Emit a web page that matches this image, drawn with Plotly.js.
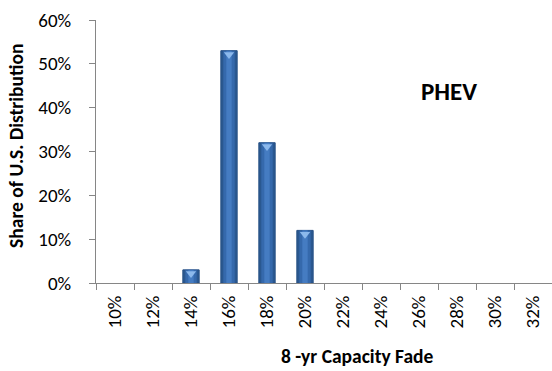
<!DOCTYPE html>
<html>
<head>
<meta charset="utf-8">
<script src="https://cdn.plot.ly/plotly-3.0.1.min.js"></script>
<style>
  html, body { margin: 0; padding: 0; background: #fff; }
  #chart { width: 552px; height: 371px; }
</style>
</head>
<body>
<div id="chart"></div>
<script>
// 8-year capacity fade bins and PHEV share of the U.S. distribution
const fadeBins = ['10%', '12%', '14%', '16%', '18%', '20%', '22%', '24%', '26%', '28%', '30%', '32%'];
const phevShare = [0, 0, 0.03, 0.53, 0.32, 0.12, 0, 0, 0, 0, 0, 0];

const FONT = 'Carlito, Calibri, Lato, sans-serif';
const AXIS_GREY = '#868686';

// empty bins draw nothing; bevel caps only on non-empty bins
const barVals = phevShare.map(v => (v > 0 ? v : null));
const capBins = fadeBins.filter((_, i) => phevShare[i] > 0);
const capVals = phevShare.filter(v => v > 0);

const traces = [
  { // bar body (dark edges)
    type: 'bar', x: fadeBins, y: barVals, width: 0.43,
    marker: { color: '#2A5890', line: { color: '#264F84', width: 1 } },
    hoverinfo: 'skip'
  },
  { // lighter inner band
    type: 'bar', x: fadeBins, y: barVals, width: 0.30,
    marker: { color: '#3569AC', line: { width: 0 } },
    hoverinfo: 'skip'
  },
  { // highlight stripe
    type: 'bar', x: fadeBins, y: barVals, width: 0.14,
    marker: { color: '#457CC2', line: { width: 0 } },
    hoverinfo: 'skip'
  },
  { // bevelled top cap
    type: 'scatter', mode: 'markers', x: capBins, y: capVals, yaxis: 'y2',
    marker: { symbol: 'triangle-down', size: 9, color: '#8CB9EC', line: { width: 0 } },
    hoverinfo: 'skip'
  }
];

const layout = {
  width: 552, height: 371,
  margin: { l: 96, r: 0, t: 20, b: 88 },
  paper_bgcolor: '#fff', plot_bgcolor: '#fff',
  showlegend: false,
  barmode: 'overlay',
  font: { family: FONT, size: 19, color: '#000' },
  xaxis: {
    type: 'category',
    tickangle: -90,
    ticks: 'outside', tickson: 'boundaries', ticklen: 6, tickcolor: AXIS_GREY, tickwidth: 1,
    showline: true, linecolor: AXIS_GREY, linewidth: 1,
    showgrid: false, zeroline: false,
    ticklabelstandoff: 4,
    tickfont: { family: FONT, size: 19 }
  },
  yaxis: {
    range: [0, 0.6], dtick: 0.1, tickformat: '.0%',
    ticks: 'outside', ticklen: 6, tickcolor: AXIS_GREY, tickwidth: 1,
    showline: true, linecolor: AXIS_GREY, linewidth: 1,
    showgrid: false, zeroline: false,
    ticklabelstandoff: 14,
    tickfont: { family: FONT, size: 19 }
  },
  yaxis2: {
    overlaying: 'y', range: [0.0085, 0.6085], visible: false, fixedrange: true
  },
  annotations: [
    {
      text: '<b>Share of U.S. Distribution</b>',
      xref: 'paper', yref: 'paper', x: -0.174, y: 0.52,
      xanchor: 'center', yanchor: 'middle', textangle: -90,
      showarrow: false, font: { family: FONT, size: 19.5 }
    },
    {
      text: '<b>8 -yr Capacity Fade</b>',
      xref: 'paper', yref: 'paper', x: 0.574, y: -0.277,
      xanchor: 'center', yanchor: 'middle',
      showarrow: false, font: { family: FONT, size: 19.5 }
    },
    {
      text: '<b>PHEV</b>',
      xref: 'paper', yref: 'paper', x: 0.775, y: 0.727,
      xanchor: 'center', yanchor: 'middle',
      showarrow: false, font: { family: FONT, size: 25 }
    }
  ]
};

Plotly.newPlot('chart', traces, layout, { staticPlot: true, displayModeBar: false });
</script>
</body>
</html>
